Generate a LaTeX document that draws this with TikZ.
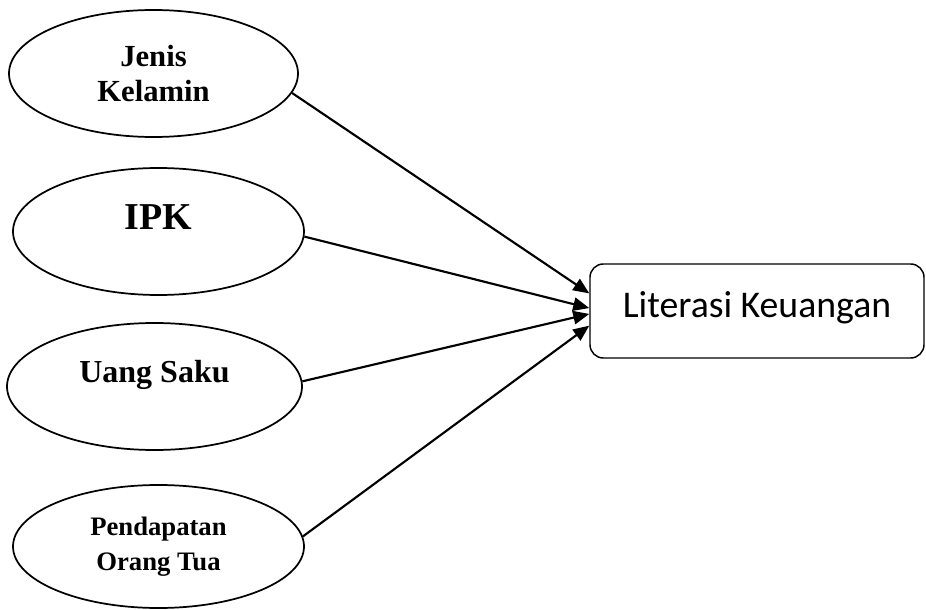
\documentclass[tikz,border=0pt]{standalone}
\usepackage{fontspec}
\setmainfont{Liberation Serif}
\newfontfamily\calibrifont{Carlito}
\usepackage{tikz}
\usetikzlibrary{arrows.meta,positioning,shapes.geometric}

\begin{document}
\begin{tikzpicture}[x=0.75pt, y=-0.75pt,
    varnode/.style={ellipse, draw, line width=1.3pt, inner sep=0pt, align=center},
    targetnode/.style={rectangle, draw, rounded corners=10pt, line width=1.1pt, inner sep=0pt},
    link/.style={-{Triangle[length=12pt,width=10pt]}, line width=1.6pt}]
    \useasboundingbox (0,0) rectangle (926,610);

    % ── Independent variables ────────────────────────────────────────────────
    \node[varnode, minimum width=216.75pt, minimum height=95.25pt,
          font=\bfseries\fontsize{23}{26}\selectfont] (jk) at (153.5,73.5) {Jenis\\Kelamin};
    \node[varnode, minimum width=218.25pt, minimum height=95.25pt,
          font=\bfseries\fontsize{28.5}{32}\selectfont] (ipk) at (158.5,231.5) {\raisebox{21pt}{IPK}};
    \node[varnode, minimum width=221.25pt, minimum height=95.25pt,
          font=\bfseries\fontsize{24}{27}\selectfont] (us) at (154.5,386.5) {\raisebox{22.5pt}{Uang Saku}};
    \node[varnode, minimum width=218.25pt, minimum height=92.25pt,
          font=\bfseries\fontsize{20}{26}\selectfont] (pot) at (158.5,546.5) {Pendapatan\\Orang Tua};

    % ── Dependent variable ───────────────────────────────────────────────────
    \node[targetnode, minimum width=250.5pt, minimum height=70.5pt,
          font=\calibrifont\fontsize{28.3}{32}\selectfont] (lk) at (757,311) {\raisebox{10pt}{Literasi Keuangan}};

    % Links into the box
    \draw[link] (jk.-8) -- (lk.174);
    \draw[link] (ipk.-2) -- (lk.179);
    \draw[link] (us.2) -- (lk.181);
    \draw[link] (pot.4) -- (lk.185);
  \end{tikzpicture}
\end{document}
